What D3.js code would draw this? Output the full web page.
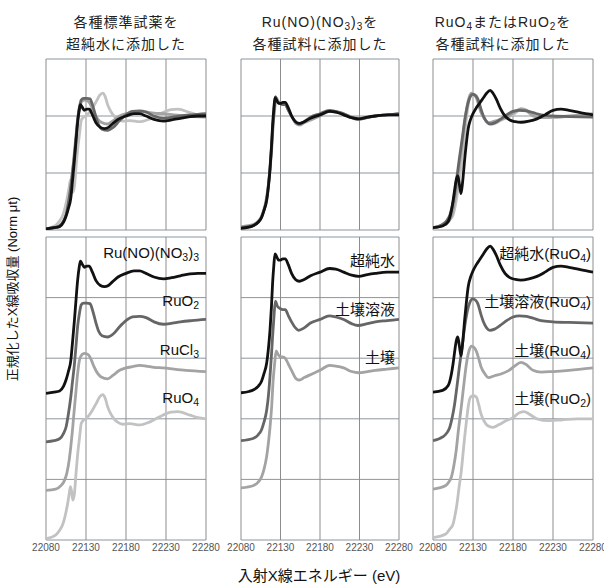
<!DOCTYPE html>
<html>
<head>
<meta charset="utf-8">
<script src="https://cdn.jsdelivr.net/npm/d3@7"></script>
<style>
  body { margin: 0; background: #fff; }
  svg { font-family: "Liberation Sans", "Noto Sans CJK JP", sans-serif; }
</style>
</head>
<body>
<svg id="chart"></svg>
<script>
// Energy ticks (eV)
const energyTicks = [22080, 22130, 22180, 22230, 22280];

// Spectra: [energy eV, normalized absorption]
const ruNitrosylWater = [[22080,0.01],[22090,0.02],[22097,0.03],[22102,0.07],[22105,0.12],[22108,0.19],[22111,0.28],[22113,0.42],[22115.5,0.61],[22117.5,0.78],[22119.5,0.94],[22121.5,1.05],[22123,1.10],[22125,1.08],[22128,1.05],[22131,1.06],[22134,1.06],[22138,1.01],[22142.5,0.94],[22148,0.90],[22153,0.89],[22158,0.90],[22163,0.93],[22170,0.97],[22180,1.00],[22190,1.02],[22197,1.02],[22205,1.00],[22215,0.97],[22227,0.955],[22237,0.965],[22248,0.98],[22260,0.995],[22270,1.0],[22280,1.0]];
const ruO2Std = [[22080,0.01],[22090,0.02],[22097,0.035],[22102,0.08],[22105,0.13],[22108,0.24],[22111,0.38],[22113,0.50],[22115.5,0.65],[22117.5,0.80],[22119.5,0.96],[22122,1.08],[22124,1.14],[22127,1.155],[22131,1.155],[22135,1.15],[22138,1.10],[22142.5,0.99],[22146,0.92],[22150,0.885],[22157,0.875],[22164,0.90],[22172,0.96],[22180,1.01],[22188,1.04],[22197,1.045],[22205,1.035],[22215,1.00],[22227,0.98],[22238,0.99],[22248,1.00],[22262,1.01],[22280,1.02]];
const ruCl3Std = [[22080,0.01],[22092,0.02],[22099,0.05],[22103,0.09],[22106,0.15],[22109,0.26],[22111,0.37],[22113,0.50],[22115,0.65],[22117.5,0.83],[22119.5,0.97],[22121.7,1.08],[22125,1.13],[22128,1.14],[22131,1.135],[22134,1.12],[22137,1.08],[22140,1.03],[22145,0.97],[22149,0.945],[22157,0.93],[22164,0.96],[22172,1.00],[22180,1.02],[22188,1.03],[22197,1.04],[22205,1.035],[22215,1.025],[22227,1.02],[22240,1.01],[22255,1.0],[22280,0.99]];
const ruO4Std = [[22080,0.01],[22092,0.04],[22097,0.08],[22101,0.13],[22104,0.20],[22107,0.30],[22109,0.38],[22110.5,0.44],[22112,0.40],[22113.5,0.33],[22115.5,0.38],[22117.5,0.55],[22119.6,0.71],[22122,0.85],[22124,0.96],[22127,0.99],[22130,1.00],[22134,1.03],[22138,1.07],[22143,1.13],[22147,1.18],[22151,1.20],[22154,1.17],[22157,1.10],[22161,1.04],[22165,1.00],[22170,0.97],[22176,0.955],[22185,0.96],[22197,0.95],[22210,0.975],[22226,1.03],[22236,1.055],[22245,1.06],[22260,1.03],[22270,1.01],[22280,1.0]];

const nitrosylInWater = [[22080,0.015],[22090,0.025],[22096,0.04],[22102,0.07],[22106,0.11],[22109,0.17],[22112.5,0.26],[22115,0.40],[22116.7,0.53],[22118.5,0.72],[22120,0.92],[22121.5,1.06],[22123,1.16],[22125,1.14],[22127.5,1.11],[22130,1.11],[22133,1.12],[22136,1.12],[22140,1.07],[22144,1.00],[22149,0.95],[22154,0.935],[22160,0.95],[22168,0.98],[22180,1.01],[22192,1.04],[22200,1.035],[22210,1.01],[22220,0.985],[22229,0.975],[22240,0.99],[22250,1.0],[22265,1.01],[22280,1.01]];
const nitrosylInSoilSol = [[22080,0.02],[22096,0.04],[22102,0.07],[22106,0.11],[22109,0.17],[22112.5,0.27],[22115,0.41],[22116.7,0.55],[22118.5,0.72],[22120,0.88],[22121.8,1.05],[22123.5,1.17],[22126,1.13],[22129.4,1.11],[22133,1.10],[22136,1.10],[22140,1.05],[22144,1.00],[22149,0.95],[22153,0.93],[22160,0.95],[22168,0.99],[22180,1.02],[22192,1.05],[22200,1.04],[22210,1.02],[22220,0.985],[22228,0.97],[22240,0.985],[22250,1.0],[22265,1.01],[22280,1.02]];
const nitrosylInSoil = [[22080,0.03],[22096,0.05],[22102,0.08],[22106,0.12],[22109,0.18],[22112.5,0.29],[22115,0.42],[22117,0.55],[22119,0.72],[22120.5,0.90],[22122.5,1.05],[22124.5,1.16],[22127,1.13],[22130,1.11],[22133,1.11],[22136,1.10],[22140,1.05],[22144,1.00],[22150,0.93],[22154,0.92],[22160,0.94],[22170,0.97],[22180,1.00],[22192,1.04],[22200,1.035],[22210,1.02],[22220,0.99],[22229,0.98],[22240,0.99],[22250,1.0],[22265,1.01],[22280,1.02]];

const ruO4InWater = [[22080,0.02],[22092,0.035],[22099,0.075],[22103,0.17],[22105,0.25],[22107,0.35],[22109,0.44],[22111,0.475],[22113,0.40],[22115,0.32],[22117,0.42],[22119.6,0.62],[22122,0.78],[22124,0.89],[22127,0.97],[22130,1.02],[22134,1.07],[22138,1.11],[22143,1.16],[22147,1.20],[22151.5,1.225],[22155,1.20],[22159,1.15],[22164,1.07],[22170,1.00],[22176,0.965],[22183,0.95],[22190,0.945],[22200,0.955],[22210,0.975],[22220,1.01],[22230,1.05],[22240,1.06],[22250,1.05],[22264,1.03],[22280,1.01]];
const ruO4InSoilSol = [[22080,0.02],[22092,0.05],[22098,0.09],[22101,0.13],[22104,0.21],[22107,0.32],[22110,0.47],[22113,0.63],[22116.5,0.80],[22119.6,0.96],[22123,1.09],[22126,1.16],[22129.5,1.19],[22133,1.18],[22136,1.15],[22140,1.06],[22143,1.00],[22147,0.95],[22151,0.93],[22157,0.94],[22164,0.97],[22172,1.01],[22180,1.04],[22188,1.05],[22197,1.045],[22205,1.03],[22215,1.01],[22230,1.0],[22250,0.995],[22280,0.99]];
const ruO4InSoil = [[22080,0.02],[22096,0.05],[22100,0.08],[22103,0.12],[22106,0.21],[22109,0.34],[22112,0.52],[22115.4,0.70],[22118.5,0.88],[22121.7,1.05],[22125,1.16],[22128,1.20],[22131,1.19],[22134,1.16],[22137,1.10],[22140,1.03],[22145,0.97],[22149,0.94],[22157,0.955],[22165,0.97],[22175,1.00],[22182,1.035],[22190,1.065],[22196,1.05],[22205,1.00],[22215,0.985],[22230,0.99],[22250,1.0],[22280,1.02]];
const ruO2InSoil = [[22080,0.02],[22096,0.05],[22101,0.09],[22105,0.13],[22108,0.22],[22110,0.30],[22112.5,0.43],[22115.4,0.57],[22117.5,0.71],[22119.6,0.85],[22122,0.99],[22124,1.10],[22127,1.18],[22130,1.19],[22134,1.18],[22137,1.12],[22140,1.04],[22144,0.98],[22148,0.945],[22155,0.93],[22162,0.95],[22170,0.98],[22180,1.01],[22188,1.05],[22194,1.06],[22200,1.04],[22210,1.00],[22225,0.985],[22240,0.99],[22260,1.0],[22280,1.0]];

// Panel titles (two lines each)
const titles = [
  ["各種標準試薬を", "超純水に添加した"],
  ["Ru(NO)(NO3)3を", "各種試料に添加した"],
  ["RuO4またはRuO2を", "各種試料に添加した"]
];

// Series per panel, drawn bottom (offset 0) first
const panelSeries = [
  [
    { name: "RuO4", data: ruO4Std, offset: 0 },
    { name: "RuCl3", data: ruCl3Std, offset: 0.4 },
    { name: "RuO2", data: ruO2Std, offset: 0.8 },
    { name: "Ru(NO)(NO3)3", data: ruNitrosylWater, offset: 1.2 }
  ],
  [
    { name: "土壌", data: nitrosylInSoil, offset: 0.4 },
    { name: "土壌溶液", data: nitrosylInSoilSol, offset: 0.8 },
    { name: "超純水", data: nitrosylInWater, offset: 1.2 }
  ],
  [
    { name: "土壌(RuO2)", data: ruO2InSoil, offset: 0 },
    { name: "土壌(RuO4)", data: ruO4InSoil, offset: 0.4 },
    { name: "土壌溶液(RuO4)", data: ruO4InSoilSol, offset: 0.8 },
    { name: "超純水(RuO4)", data: ruO4InWater, offset: 1.2 }
  ]
];

// Layout
const width = 604;
const height = 584;
const panelX = [[46, 206], [241, 399], [433, 593]];
const titleX = [126, 320, 503];
const labelLift = [1.17, 1.10, 1.16];
const labelRight = [199, 395, 591];
const topY = [59, 230];
const botY = [237, 540];
const colorByOffset = { 0: "#c2c2c2", 0.4: "#a3a3a3", 0.8: "#666666", 1.2: "#111111" };
const vGridColor = "#8d8d8d";
const hGridColor = "#8c96a0";

const svg = d3.select("#chart").attr("width", width).attr("height", height);

// write chemical formula with subscript digits
function formula(sel, str, size, sub) {
  const parts = str.match(/[0-9]+|[^0-9]+/g);
  let down = false;
  parts.forEach((p) => {
    const isNum = /^[0-9]+$/.test(p);
    const t = sel.append("tspan").text(p);
    if (isNum) {
      t.attr("font-size", sub).attr("dy", down ? 0 : 3);
      down = true;
    } else {
      t.attr("font-size", size).attr("dy", down ? -3 : 0);
      down = false;
    }
  });
}

const yTop = d3.scaleLinear().domain([0, 1.5]).range([topY[1], topY[0]]);
const yBot = d3.scaleLinear().domain([0, 2.5]).range([botY[1], botY[0]]);

panelSeries.forEach((series, i) => {
  const x = d3.scaleLinear().domain([22080, 22280]).range(panelX[i]);

  // titles
  titles[i].forEach((line, j) => {
    const t = svg.append("text")
      .attr("x", titleX[i]).attr("y", 27 + j * 22)
      .attr("text-anchor", "middle")
      .attr("fill", "#222")
      .attr("letter-spacing", "1px");
    formula(t, line, 14, 10);
  });

  [[yTop, topY, false], [yBot, botY, true]].forEach(([y, yr, stacked], k) => {
    const g = svg.append("g");
    const clipId = `clip-${i}-${k}`;
    g.append("clipPath").attr("id", clipId)
      .append("rect")
      .attr("x", panelX[i][0]).attr("y", yr[0])
      .attr("width", panelX[i][1] - panelX[i][0]).attr("height", yr[1] - yr[0]);

    // grid
    g.selectAll(".hg").data(d3.range(0, y.domain()[1] + 0.01, 0.5)).enter().append("line")
      .attr("x1", panelX[i][0]).attr("x2", panelX[i][1])
      .attr("y1", (d) => y(d)).attr("y2", (d) => y(d))
      .attr("stroke", hGridColor).attr("stroke-width", 1);
    g.selectAll(".vg").data(energyTicks).enter().append("line")
      .attr("x1", (d) => x(d)).attr("x2", (d) => x(d))
      .attr("y1", yr[0]).attr("y2", yr[1])
      .attr("stroke", vGridColor).attr("stroke-width", 1);

    const line = (off) => d3.line()
      .x((d) => x(d[0]))
      .y((d) => y(d[1] + off))
      .curve(d3.curveMonotoneX);

    const curves = g.append("g").attr("clip-path", `url(#${clipId})`);
    series.forEach((s) => {
      curves.append("path")
        .datum(s.data)
        .attr("d", line(stacked ? s.offset : 0))
        .attr("fill", "none")
        .attr("stroke", colorByOffset[s.offset])
        .attr("stroke-width", 2.8)
        .attr("stroke-linejoin", "round");
    });

    if (stacked) {
      series.forEach((s) => {
        const t = svg.append("text")
          .attr("x", labelRight[i])
          .attr("y", y(s.offset + labelLift[i]) + 5)
          .attr("text-anchor", "end")
          .attr("fill", "#111");
        formula(t, s.name, 15, 10.5);
      });
    }
  });

  // tick labels
  svg.selectAll(null).data(energyTicks).enter().append("text")
    .attr("x", (d) => x(d)).attr("y", 551)
    .attr("text-anchor", "middle")
    .attr("font-size", 10)
    .attr("fill", "#555")
    .text((d) => d);
});

svg.append("text")
  .attr("x", 319).attr("y", 581)
  .attr("text-anchor", "middle")
  .attr("font-size", 15)
  .attr("fill", "#111")
  .text("入射X線エネルギー (eV)");

svg.append("text")
  .attr("transform", "translate(17, 289) rotate(-90)")
  .attr("text-anchor", "middle")
  .attr("font-size", 13)
  .attr("fill", "#111")
  .text("正規化したX線吸収量 (Norm μt)");
</script>
</body>
</html>
